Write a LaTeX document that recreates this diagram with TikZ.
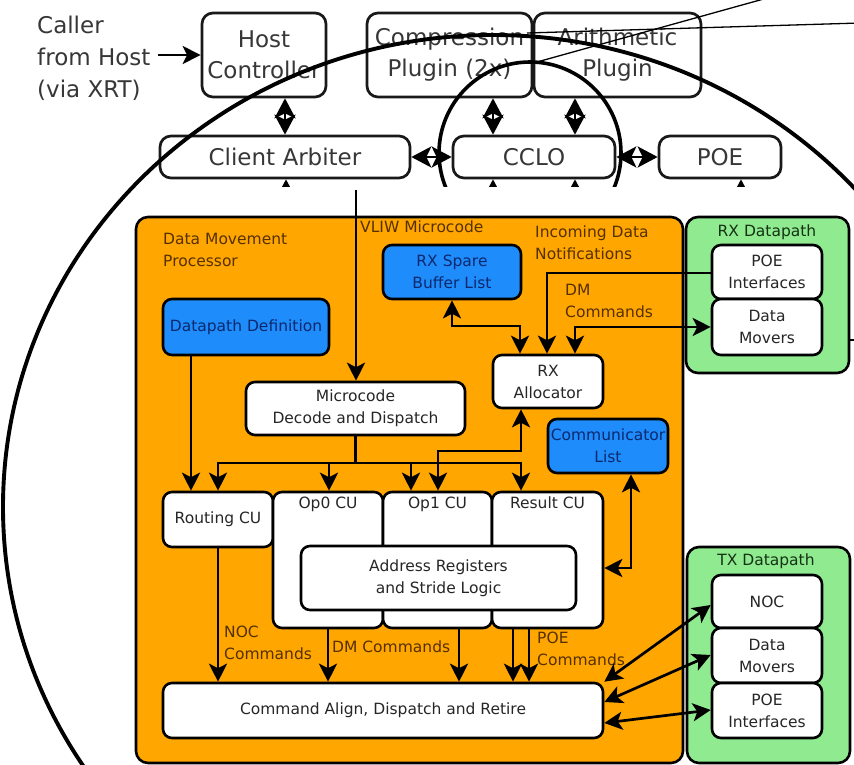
\documentclass[tikz,border=0pt]{standalone}
\usepackage{fontspec}
\setmainfont{DejaVu Sans}
\usetikzlibrary{arrows.meta}

\definecolor{dmporange}{RGB}{255,166,0}
\definecolor{dpgreen}{RGB}{144,234,144}
\definecolor{cfgblue}{RGB}{30,140,250}
\definecolor{inktext}{RGB}{38,38,38}
\definecolor{toptext}{RGB}{55,55,55}
\definecolor{browntext}{RGB}{85,48,0}
\definecolor{navytext}{RGB}{12,40,110}
\definecolor{greentext}{RGB}{20,50,20}

\tikzset{
  topbox/.style={draw=black!90, line width=2.7pt, rounded corners=11pt, fill=white,
    text=toptext, font=\fontsize{23}{31}\selectfont, align=center, inner sep=0pt},
  wbox/.style={draw=black, line width=2.6pt, rounded corners=9pt, fill=white,
    text=inktext, font=\fontsize{15.5}{22}\selectfont, align=center, inner sep=0pt},
  bbox/.style={wbox, fill=cfgblue, text=navytext},
  region/.style={draw=black, line width=2.6pt, rounded corners=12pt, inner sep=0pt},
  lbl/.style={text=browntext, font=\fontsize{15.5}{22}\selectfont, align=left, inner sep=0pt},
  cutitle/.style={text=inktext, font=\fontsize{15.5}{22}\selectfont, inner sep=0pt, anchor=north, yshift=-6pt},
  toparrow/.style={line width=2.7pt,
    {Stealth[length=20pt,width=21pt,inset=5pt]}-{Stealth[length=20pt,width=21pt,inset=5pt]}},
  uptip/.style={line width=2.7pt, {Stealth[length=20pt,width=21pt,inset=5pt]}-},
  wire/.style={line width=2.7pt},
  conn/.style={wire, -{Stealth[length=18pt,width=18pt,inset=4.5pt]}},
  conn2/.style={wire, {Stealth[length=18pt,width=18pt,inset=4.5pt]}-{Stealth[length=18pt,width=18pt,inset=4.5pt]}},
}

% a box placed by its corners: name, x1, y1, x2, y2, style, text
\newcommand{\cornerbox}[7]{%
  \node[#6, minimum width={(#4-#2)*1pt}, minimum height={(#5-#3)*1pt}]
    (#1) at ({(#2+#4)/2},{(#3+#5)/2}) {#7};}

\begin{document}
\begin{tikzpicture}[x=1pt, y=-1pt]
\clip (0,0) rectangle (854,765);
\fill[white] (0,0) rectangle (854,765);

% ---------------- host side: system overview ----------------
\begin{scope}
  \clip (0,0) rectangle (854,186);
  \node[anchor=west, text=toptext, font=\fontsize{23}{32}\selectfont, align=left, inner sep=0pt]
    (caller) at (37,58) {Caller\\from Host\\(via XRT)};
  \cornerbox{host}{202}{13}{326}{97}{topbox}{Host\\Controller}
  \cornerbox{comp}{367}{13}{532}{97}{topbox}{Compression\\Plugin (2x)}
  \cornerbox{arith}{534}{13}{701}{97}{topbox}{Arithmetic\\Plugin}
  \cornerbox{arb}{160}{136}{410}{178}{topbox}{Client Arbiter}
  \cornerbox{cclo}{453}{136}{615}{178}{topbox}{CCLO}
  \cornerbox{poe}{659}{136}{781}{178}{topbox}{POE}

  \coordinate (callout) at ([xshift=7pt]caller.east);
  \draw[line width=2.7pt, -{Stealth[length=18pt,width=18pt,inset=4.5pt]}]
    (callout |- host.west) -- (host.west);

  \draw[toparrow] (arb.north) -- (arb.north |- host.south);
  \draw[toparrow] (493,0 |- comp.south) -- (493,0 |- cclo.north);
  \draw[toparrow] (575,0 |- arith.south) -- (575,0 |- cclo.north);
  \draw[toparrow] (arb.east) -- (cclo.west);
  \draw[toparrow] (cclo.east) -- (poe.west);

  % links continuing down towards the expanded view
  \draw[uptip] (286,0 |- arb.south) -- (286,240);
  \draw[uptip] (493,0 |- cclo.south) -- (493,240);
  \draw[uptip] (575,0 |- cclo.south) -- (575,240);
  \draw[uptip] (741,0 |- poe.south) -- (741,240);

  % magnifier around the CCLO
  \draw[line width=3.6pt] (530,153) circle[radius=91pt];
\end{scope}

% magnified view outline and guide lines
\draw[line width=3.9pt] (493,507) ellipse[x radius=490pt, y radius=472pt];
\draw[line width=1.3pt] (537,62) -- (796,-10);
\draw[line width=1.3pt] (527,33) -- (860,23);

% ---------------- data movement processor ----------------
\cornerbox{dmp}{136}{217}{683}{763}{region, fill=dmporange}{}
\cornerbox{rxdp}{686}{217}{849}{373}{region, fill=dpgreen}{}
\cornerbox{txdp}{687}{547}{850}{763}{region, fill=dpgreen}{}

\node[lbl, anchor=west] (dmplbl) at (163,250) {Data Movement\\Processor};
\node[lbl, anchor=west] (vliw) at (360,227) {VLIW Microcode};
\node[lbl, anchor=west] (incoming) at (535,243) {Incoming Data\\Notifications};
\node[lbl, anchor=west] (dmcmd) at (565,301) {DM\\Commands};
\node[lbl, anchor=west] (noccmd) at (224,643) {NOC\\Commands};
\node[lbl, anchor=west] (dmcmd2) at (332,647) {DM Commands};
\node[lbl, anchor=west] (poecmd) at (537,649) {POE\\Commands};
\node[lbl, text=greentext] (rxlbl) at (767,232) {RX Datapath};
\node[lbl, text=greentext] (txlbl) at (766,561) {TX Datapath};

\cornerbox{rxspare}{383}{245}{521}{299}{bbox}{RX Spare\\Buffer List}
\cornerbox{dpdef}{163}{299}{329}{355}{bbox}{Datapath Definition}
\cornerbox{comm}{548}{419}{668}{473}{bbox}{Communicator\\List}
\cornerbox{rxalloc}{493}{355}{603}{408}{wbox}{RX\\Allocator}
\cornerbox{rxpoe}{712}{245}{822}{299}{wbox}{POE\\Interfaces}
\cornerbox{rxdm}{712}{299}{822}{355}{wbox}{Data\\Movers}
\cornerbox{mdd}{246}{382}{465}{435}{wbox}{Microcode\\Decode and Dispatch}
\cornerbox{rcu}{163}{492}{273}{547}{wbox}{Routing CU}
\cornerbox{op0}{273}{492}{383}{628}{wbox}{}
\cornerbox{op1}{383}{492}{492}{628}{wbox}{}
\cornerbox{res}{492}{492}{603}{628}{wbox}{}
\node[cutitle] (op0t) at (op0.north) {Op0 CU};
\node[cutitle] (op1t) at (op1.north) {Op1 CU};
\node[cutitle] (rest) at (res.north) {Result CU};
\cornerbox{addr}{301}{546}{576}{610}{wbox}{Address Registers\\and Stride Logic}
\cornerbox{cadr}{163}{683}{603}{738}{wbox}{Command Align, Dispatch and Retire}
\cornerbox{noc}{712}{575}{822}{628}{wbox}{NOC}
\cornerbox{txdm}{712}{628}{822}{683}{wbox}{Data\\Movers}
\cornerbox{txpoe}{712}{683}{822}{738}{wbox}{POE\\Interfaces}

% microcode path
\coordinate (vliwin) at (356,190);
\draw[conn] (vliwin) -- (vliwin |- mdd.north);
\draw[conn] (191,0 |- dpdef.south) -- (191,0 |- rcu.north);
\draw[conn] (mdd.south) |- (218,463) -- (218,0 |- rcu.north);
\draw[conn] (mdd.south) |- (521,463) -- (521,0 |- res.north);
\draw[conn] (329,463) -- (329,0 |- op0.north);
\draw[conn] (411,463) -- (411,0 |- op1.north);

% receive side
\draw[conn2] (521,0 |- rxalloc.south) |- (438,451) -- (438,0 |- op1.north);
\draw[conn2] (631,0 |- comm.south) |- (res.east |- 0,568);
\draw[conn2] (452,0 |- rxspare.south) |- (520,326) -- (520,0 |- rxalloc.north);
\draw[conn] (rxpoe.west |- 0,273) -| (547,0 |- rxalloc.north);
\draw[conn2] (575,0 |- rxalloc.north) |- (rxdm.west |- 0,327);
\draw[wire] (rxdp.east |- 0,340) -- (856,340);

% command outputs
\draw[conn] (rcu.south) -- (rcu.south |- cadr.north);
\draw[conn] (328,0 |- op0.south) -- (328,0 |- cadr.north);
\draw[conn] (459,0 |- op1.south) -- (459,0 |- cadr.north);
\draw[conn] (513,0 |- res.south) -- (513,0 |- cadr.north);
\draw[conn] (529,0 |- res.south) -- (529,0 |- cadr.north);

% transmit side
\draw[conn2] (cadr.north east) -- (noc.west |- 0,605);
\draw[conn2] (cadr.east |- 0,702) -- (txdm.west |- 0,655);
\draw[conn2] (cadr.east |- 0,723) -- (txpoe.west |- 0,710);
\end{tikzpicture}
\end{document}
